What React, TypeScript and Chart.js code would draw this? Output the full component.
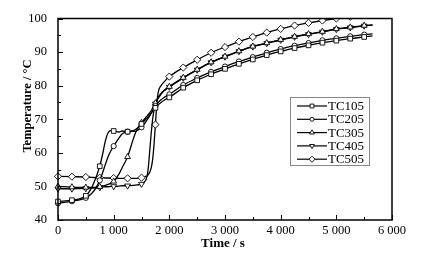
import React, { useEffect, useRef } from "react";
import { Chart, registerables } from "chart.js";
import { drawPoint } from "chart.js/helpers";

Chart.register(...registerables);

// time axis (s)
const times = [0, 250, 500, 600, 700, 750, 800, 850, 900, 950, 1000, 1100, 1150, 1250, 1350, 1400, 1450, 1500, 1550, 1600, 1625, 1650, 1675, 1700, 1725, 1750, 1775, 1800, 1850, 1900, 2000, 2250, 2500, 2750, 3000, 3250, 3500, 3750, 4000, 4250, 4500, 4750, 5000, 5250, 5500, 5650];

const tc105 = [45.5, 45.9, 47.2, 49.5, 53.5, 56.0, 59.5, 63.5, 66.0, 66.6, 66.5, 66.2, 66.5, 66.3, 66.6, 67.0, 67.7, 68.6, 69.5, 70.4, 70.9, 71.4, 71.9, 72.4, 72.9, 73.4, 73.9, 74.3, 75.0, 75.6, 76.5, 79.4, 81.6, 83.4, 85.0, 86.5, 87.8, 89.1, 90.2, 91.2, 92.0, 92.8, 93.4, 94.0, 94.5, 94.8];
const tc205 = [45.0, 45.6, 46.6, 47.8, 50.0, 51.8, 54.0, 56.5, 58.8, 60.6, 62.0, 64.5, 65.6, 66.3, 66.4, 66.5, 66.9, 67.6, 68.6, 69.8, 70.4, 71.1, 71.8, 72.5, 73.2, 73.9, 74.5, 75.0, 75.8, 76.4, 77.4, 80.2, 82.3, 84.1, 85.7, 87.2, 88.5, 89.8, 90.9, 91.9, 92.7, 93.5, 94.1, 94.7, 95.2, 95.4];
const tc305 = [50.0, 49.8, 49.7, 49.7, 49.8, 49.9, 50.1, 50.3, 50.6, 51.0, 51.5, 53.8, 55.5, 58.8, 64.0, 66.3, 67.8, 69.0, 70.0, 71.0, 71.5, 72.0, 72.6, 73.3, 74.0, 74.8, 75.5, 76.2, 77.4, 78.4, 79.7, 82.4, 84.8, 87.0, 88.7, 90.3, 91.7, 92.7, 93.7, 94.6, 95.4, 96.1, 96.9, 97.4, 97.9, 98.1];
const tc405 = [49.3, 49.3, 49.4, 49.5, 49.6, 49.7, 49.8, 49.9, 49.9, 50.0, 50.0, 50.1, 50.2, 50.2, 50.3, 50.4, 50.5, 50.7, 51.3, 53.0, 56.0, 61.0, 66.0, 70.0, 72.8, 74.6, 75.8, 76.6, 77.7, 78.5, 79.6, 82.3, 84.7, 86.9, 88.6, 90.2, 91.6, 92.6, 93.6, 94.5, 95.3, 96.0, 96.8, 97.3, 97.8, 98.0];
const tc505 = [53.0, 52.9, 52.8, 52.7, 52.6, 52.6, 52.6, 52.5, 52.5, 52.5, 52.5, 52.4, 52.4, 52.4, 52.4, 52.4, 52.5, 52.6, 52.8, 53.2, 53.6, 54.3, 55.6, 58.0, 62.5, 68.4, 74.5, 78.0, 80.0, 81.0, 82.7, 85.4, 87.7, 89.8, 91.5, 93.1, 94.5, 95.8, 96.9, 97.9, 98.7, 99.4, 100.0, 100.5, 101.0, 101.2];

const seriesNames = ["TC105", "TC205", "TC305", "TC405", "TC505"];
const xTickValues = [0, 1000, 2000, 3000, 4000, 5000, 6000];
const xTickLabels = ["0", "1 000", "2 000", "3 000", "4 000", "5 000", "6 000"];
const yTickLabels = ["40", "50", "60", "70", "80", "90", "100"];
const xTitle = "Time / s";
const yTitle = "Temperature / °C";

const FONT = "'Liberation Serif', 'Times New Roman', serif";

const styles = [
  { pointStyle: "rect", radius: 3.3, rotation: 0 },
  { pointStyle: "circle", radius: 2.6, rotation: 0 },
  { pointStyle: "triangle", radius: 3.4, rotation: 0 },
  { pointStyle: "triangle", radius: 3.4, rotation: 180 },
  { pointStyle: "rectRot", radius: 3.6, rotation: 0 },
];

const framePlugin = {
  id: "frame",
  afterDraw(chart: any) {
    const { ctx, chartArea: a, scales } = chart;
    const xs = scales.x;
    const ys = scales.y;
    ctx.save();
    ctx.strokeStyle = "#000";
    // ticks (inward)
    ctx.lineWidth = 1;
    ctx.beginPath();
    for (let v = 0; v <= 6000; v += 500) {
      const px = Math.round(xs.getPixelForValue(v)) + 0.5;
      const len = v % 1000 === 0 ? 5 : 3;
      ctx.moveTo(px, a.bottom);
      ctx.lineTo(px, a.bottom - len);
    }
    for (let v = 40; v <= 100; v += 5) {
      const py = Math.round(ys.getPixelForValue(v)) + 0.5;
      const len = v % 10 === 0 ? 5 : 3;
      ctx.moveTo(a.left, py);
      ctx.lineTo(a.left + len, py);
    }
    ctx.stroke();
    // frame
    ctx.lineWidth = 1.5;
    ctx.strokeRect(a.left, a.top, a.right - a.left, a.bottom - a.top);

    // axis titles
    ctx.fillStyle = "#000";
    ctx.font = `bold 13px ${FONT}`;
    ctx.textAlign = "center";
    ctx.textBaseline = "middle";
    ctx.fillText(xTitle, 223, 244);
    ctx.save();
    ctx.translate(28, 106);
    ctx.rotate(-Math.PI / 2);
    ctx.font = `bold 12.5px ${FONT}`;
    ctx.fillText(yTitle, 0, 0);
    ctx.restore();

    // legend
    const lx = 290.5, ly = 97.5, lw = 79, lh = 68;
    ctx.fillStyle = "#fff";
    ctx.fillRect(lx, ly, lw, lh);
    ctx.strokeStyle = "#888";
    ctx.lineWidth = 1;
    ctx.strokeRect(lx, ly, lw, lh);
    ctx.font = `13px ${FONT}`;
    ctx.textAlign = "left";
    ctx.textBaseline = "middle";
    chart.data.datasets.forEach((ds: any, i: number) => {
      const cy = 106 + i * 13.3;
      ctx.strokeStyle = "#000";
      ctx.lineWidth = 1.2;
      ctx.beginPath();
      ctx.moveTo(297, cy);
      ctx.lineTo(327, cy);
      ctx.stroke();
      ctx.fillStyle = "#fff";
      ctx.lineWidth = 0.9;
      drawPoint(ctx, { pointStyle: styles[i].pointStyle, radius: styles[i].radius - 0.6, rotation: styles[i].rotation, borderWidth: 0.9 } as any, 312, cy);
      ctx.fillStyle = "#000";
      ctx.fillText(ds.label, 328, cy + 0.5);
    });
    ctx.restore();
  },
};

export default function App() {
  const ref = useRef<HTMLCanvasElement>(null);
  useEffect(() => {
    document.body.style.margin = "0";
    const all = [tc105, tc205, tc305, tc405, tc505];
    const datasets = all.map((vals, i) => ({
      label: seriesNames[i],
      data: vals.map((v, j) => ({ x: times[j], y: v })),
      borderColor: "#000",
      borderWidth: 1.3,
      backgroundColor: "#fff",
      pointBackgroundColor: "#fff",
      pointBorderColor: "#000",
      pointBorderWidth: 0.9,
      pointStyle: styles[i].pointStyle,
      pointRotation: styles[i].rotation,
      pointRadius: (c: any) => (times[c.dataIndex] % 250 === 0 ? styles[i].radius : 0),
      cubicInterpolationMode: "monotone",
      fill: false,
      clip: { left: 6, right: 6, top: 0, bottom: 6 },
    }));
    const chart = new Chart(ref.current!, {
      type: "line",
      data: { datasets } as any,
      options: {
        animation: false,
        responsive: false,
        maintainAspectRatio: false,
        layout: { padding: { left: 0, top: 16, right: 53, bottom: 0 } },
        plugins: { legend: { display: false }, tooltip: { enabled: false } },
        scales: {
          x: {
            type: "linear",
            min: 0,
            max: 6000,
            afterFit: (s: any) => { s.height = 41; },
            afterBuildTicks: (s: any) => { s.ticks = xTickValues.map((v) => ({ value: v })); },
            border: { display: false },
            grid: { display: false, drawTicks: false },
            ticks: {
              padding: 3,
              color: "#000",
              maxRotation: 0,
              autoSkip: false,
              font: { family: FONT, size: 12.5 },
              callback: (v: any) => xTickLabels[xTickValues.indexOf(Number(v))] ?? "",
            },
          },
          y: {
            type: "linear",
            min: 40,
            max: 100,
            afterFit: (s: any) => { s.width = 58; },
            border: { display: false },
            grid: { display: false, drawTicks: false },
            ticks: {
              stepSize: 10,
              padding: 11,
              color: "#000",
              font: { family: FONT, size: 12.5 },
              callback: (v: any) => yTickLabels[Math.round((Number(v) - 40) / 10)] ?? "",
            },
          },
        },
      } as any,
      plugins: [framePlugin],
    });
    return () => chart.destroy();
  }, []);
  return (
    <div style={{ position: "absolute", left: 0, top: 0, width: 445, height: 261, background: "#fff" }}>
      <canvas ref={ref} width={445} height={261} />
    </div>
  );
}
